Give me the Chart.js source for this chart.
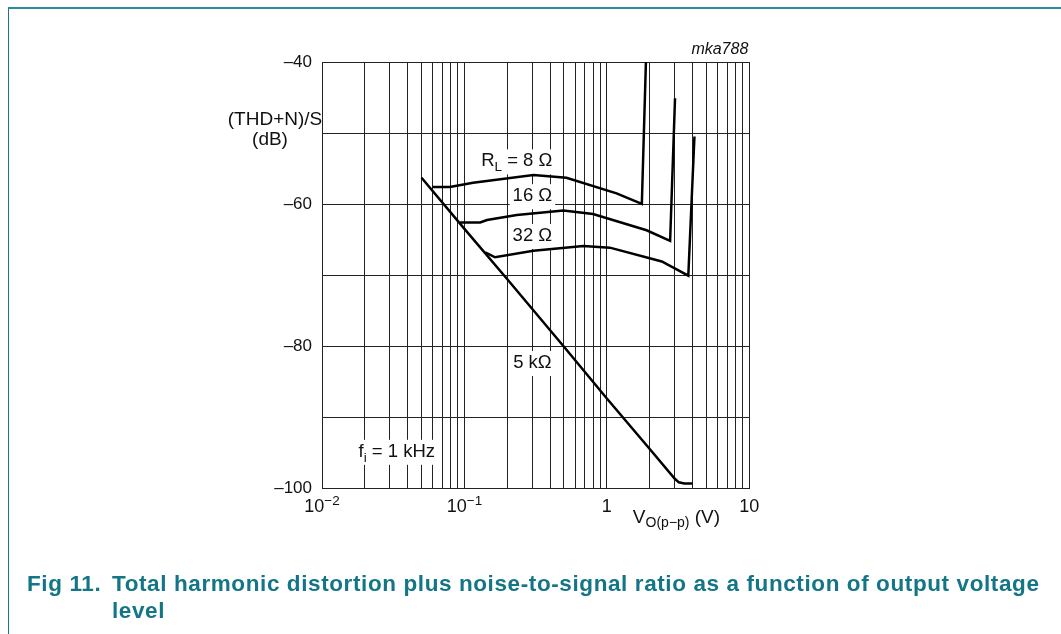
<!DOCTYPE html>
<html><head><meta charset="utf-8">
<script src="https://cdn.jsdelivr.net/npm/chart.js@4"></script>
<style>
html,body{margin:0;padding:0;background:#fff;width:1061px;height:634px;overflow:hidden;}
#frame{position:absolute;left:8px;top:7px;width:1100px;height:700px;border-left:1px solid #137c8c;border-top:2px solid #2a8d9b;box-sizing:border-box;}
#wrap{position:absolute;left:0;top:0;width:1061px;height:634px;}
.cap{position:absolute;font-family:'Liberation Sans',Arial,sans-serif;font-weight:bold;font-size:22.5px;color:#137585;letter-spacing:0.6px;line-height:27px;white-space:nowrap;}
</style></head><body>
<div id="frame"></div>
<div id="wrap"><canvas id="c" width="1061" height="634"></canvas></div>
<div class="cap" style="left:27px;top:570px;">Fig 11.</div>
<div class="cap" style="left:112px;top:570px;">Total harmonic distortion plus noise-to-signal ratio as a function of output voltage<br>level</div>
<script>
// ---- data ----
const xGrid = [0.01,0.02,0.03,0.04,0.05,0.06,0.07,0.08,0.09,0.1,0.2,0.3,0.4,0.5,0.6,0.7,0.8,0.9,1,2,3,4,5,6,7,8,9,10];
const yTicks = [-100,-90,-80,-70,-60,-50,-40];
const yTickLabels = ['–100','','–80','','–60','','–40'];
const xTickValues = [0.01,0.1,1,10];
const xTickBase = ['10','10','1','10'];
const xTickExp = ['−2','−1','',''];

const v5k = [0.05,0.1,0.2,0.5,1,2,3,3.2,3.5,4.0];
const thd5k = [-56.3,-63.5,-70.6,-80.1,-87.4,-94.5,-98.7,-99.2,-99.35,-99.35];
const v8 = [0.0596,0.079,0.115,0.305,0.52,1.17,1.76,1.88];
const thd8 = [-57.6,-57.6,-57.0,-55.9,-56.3,-58.5,-60.0,-40];
const v16 = [0.093,0.129,0.144,0.233,0.495,0.80,1.9,2.78,3.01];
const thd16 = [-62.6,-62.6,-62.25,-61.55,-60.9,-61.4,-63.7,-65.2,-45.1];
const v32 = [0.14,0.164,0.305,0.684,1.05,2.43,3.73,4.12];
const thd32 = [-66.8,-67.5,-66.6,-65.9,-66.15,-68.1,-70.1,-50.5];

const labelX = [0.233,0.3,0.3,0.3,0.0335];
const labelY = [-54.0,-58.9,-64.5,-82.4,-94.9];
const labelParts = [
  [['R',0],['L',1],[' = 8 Ω',0]],
  [['16 Ω',0]],
  [['32 Ω',0]],
  [['5 kΩ',0]],
  [['f',0],['i',1],[' = 1 kHz',0]]
];
const yTitle = ['(THD+N)/S','(dB)'];
const xTitleParts = [['V',0],['O(p−p)',1],[' (V)',0]];
const figId = 'mka788';

// ---- helpers ----
const FAM = "'Liberation Sans', Arial, sans-serif";
function pts(xs, ys){ return xs.map((v,i)=>({x:v,y:ys[i]})); }
function partsWidth(ctx, parts, size, subSize){
  let w = 0;
  parts.forEach(p=>{ ctx.font = (p[1]?subSize:size)+'px '+FAM; w += ctx.measureText(p[0]).width; });
  return w;
}
function drawParts(ctx, parts, x0, yMid, size, subSize, subDy){
  let x = x0;
  ctx.textAlign='left'; ctx.textBaseline='middle';
  parts.forEach(p=>{
    ctx.font = (p[1]?subSize:size)+'px '+FAM;
    ctx.fillText(p[0], x, yMid + (p[1]?subDy:0));
    x += ctx.measureText(p[0]).width;
  });
}

const annot = {
  id:'annot',
  beforeDatasetsDraw(chart){
    const {ctx, scales:{x,y}} = chart;
    ctx.save();
    labelParts.forEach((parts,i)=>{
      const px = x.getPixelForValue(labelX[i]), py = y.getPixelForValue(labelY[i]);
      const w = partsWidth(ctx, parts, 18.5, 13.5);
      ctx.fillStyle='#fff';
      ctx.fillRect(px - w/2 - 3, py - 12, w + 6, 25);
      ctx.fillStyle='#111';
      drawParts(ctx, parts, px - w/2, py, 18.5, 13.5, 6);
    });
    ctx.restore();
  },
  afterDraw(chart){
    const {ctx, chartArea:ca, scales:{x,y}} = chart;
    ctx.save();
    ctx.fillStyle='#111';
    // x tick labels with superscripts
    xTickValues.forEach((v,i)=>{
      const px = x.getPixelForValue(v);
      ctx.font = '18px '+FAM;
      const wb = ctx.measureText(xTickBase[i]).width;
      ctx.font = '13.5px '+FAM;
      const we = xTickExp[i] ? ctx.measureText(xTickExp[i]).width : 0;
      const x0 = px - (wb+we)/2;
      ctx.textAlign='left'; ctx.textBaseline='middle';
      ctx.font = '18px '+FAM;
      ctx.fillText(xTickBase[i], x0, ca.bottom + 19);
      if (xTickExp[i]) { ctx.font = '13.5px '+FAM; ctx.fillText(xTickExp[i], x0+wb, ca.bottom + 13.5); }
    });
    // x title
    drawParts(ctx, xTitleParts, x.getPixelForValue(1) + 26, ca.bottom + 30, 19, 14, 5);
    // y title
    ctx.font = '19px '+FAM; ctx.textAlign='center'; ctx.textBaseline='middle';
    ctx.fillText(yTitle[0], ca.left - 47, y.getPixelForValue(-48.2));
    ctx.fillText(yTitle[1], ca.left - 52, y.getPixelForValue(-51.0));
    // figure id
    ctx.font = 'italic 16px '+FAM; ctx.textAlign='right'; ctx.textBaseline='middle';
    ctx.fillText(figId, ca.right - 1, ca.top - 12);
    ctx.restore();
  }
};

const ds = (xs,ys)=>({data:pts(xs,ys), borderColor:'#000', borderWidth:2.5, pointRadius:0, tension:0, fill:false, borderJoinStyle:'miter', borderCapStyle:'butt'});

new Chart(document.getElementById('c'), {
  type:'line',
  data:{ datasets:[ ds(v5k,thd5k), ds(v8,thd8), ds(v16,thd16), ds(v32,thd32) ] },
  options:{
    responsive:false, animation:false, devicePixelRatio:1,
    layout:{ padding:{ left:0, top:62, right:311.7, bottom:106 } },
    plugins:{ legend:{display:false}, tooltip:{enabled:false} },
    scales:{
      x:{ type:'logarithmic', min:0.01, max:10,
          afterBuildTicks:(s)=>{ s.ticks = xGrid.map(v=>({value:v})); },
          afterFit:(s)=>{ s.height = 40; },
          grid:{ color:'#222', lineWidth:1, drawTicks:false },
          border:{ color:'#222', width:1 },
          ticks:{ display:false, autoSkip:false } },
      y:{ type:'linear', min:-100, max:-40,
          afterBuildTicks:(s)=>{ s.ticks = yTicks.map(v=>({value:v})); },
          afterFit:(s)=>{ s.width = 322; },
          grid:{ color:'#222', lineWidth:1, drawTicks:false },
          border:{ color:'#222', width:1 },
          ticks:{ padding:10, color:'#111', font:{ family:FAM, size:17 },
                  callback:(v)=>{ const i = yTicks.indexOf(v); return i>=0 ? yTickLabels[i] : ''; } } }
    }
  },
  plugins:[annot]
});
</script>
</body></html>
